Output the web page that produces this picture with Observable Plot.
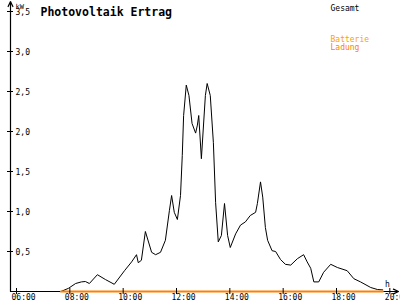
<!DOCTYPE html>
<html>
<head>
<meta charset="utf-8">
<script src="https://cdn.jsdelivr.net/npm/d3@7"></script>
<script src="https://cdn.jsdelivr.net/npm/@observablehq/plot@0.6"></script>
<style>
  html, body { margin: 0; padding: 0; background: #fff; }
  #chart svg { display: block; }
</style>
</head>
<body>
<div id="chart"></div>
<script>
// Gesamt (total PV output, kW)
const gesamtTimes = ["07:40","07:57","08:13","08:26","08:35","08:44","09:02","09:20","09:40","10:03","10:19","10:30","10:34","10:41","10:50","11:04","11:13","11:24","11:35","11:44","11:49","11:55","12:02","12:09","12:13","12:16","12:22","12:28","12:35","12:43","12:47","12:50","12:56","13:05","13:09","13:16","13:23","13:28","13:34","13:41","13:48","13:55","14:01","14:13","14:24","14:35","14:46","14:58","15:02","15:09","15:14","15:20","15:25","15:35","15:43","15:54","16:05","16:17","16:32","16:46","16:54","17:02","17:09","17:20","17:31","17:47","18:02","18:24","18:39","18:54","19:17","19:32","19:44"];
const gesamtKW = [0.0,0.04,0.10,0.12,0.125,0.10,0.21,0.15,0.09,0.26,0.37,0.46,0.36,0.39,0.75,0.49,0.46,0.49,0.64,1.01,1.20,0.99,0.90,1.20,1.70,2.20,2.58,2.45,2.10,1.98,2.08,2.20,1.66,2.45,2.60,2.45,1.86,1.11,0.62,0.70,1.10,0.70,0.55,0.72,0.83,0.87,0.95,0.99,1.10,1.37,1.18,0.80,0.64,0.51,0.50,0.40,0.34,0.33,0.41,0.46,0.37,0.29,0.12,0.12,0.24,0.34,0.30,0.26,0.16,0.12,0.05,0.025,0.02];

// Batterie Ladung (battery charging, kW)
const ladungTimes = ["07:40","19:44"];
const ladungKW = [0, 0];

// Axis ticks and labels
const yTicks = [0.5, 1.0, 1.5, 2.0, 2.5, 3.0, 3.5];
const yTickLabels = ["0,5","1,0","1,5","2,0","2,5","3,0","3,5"];
const xTicks = [6, 8, 10, 12, 14, 16, 18, 20];
const xTickLabels = ["06:00","08:00","10:00","12:00","14:00","16:00","18:00","20:00"];

const title = "Photovoltaik Ertrag";
const yUnit = "kW";
const xUnit = "h";
const legendGesamt = "Gesamt";
const legendBatterie = "Batterie";
const legendLadung = "Ladung";

const toHours = s => { const [h, m] = s.split(":").map(Number); return h + m / 60; };
const gesamt = gesamtTimes.map((t, i) => ({t: toHours(t), kw: gesamtKW[i]}));
const ladung = ladungTimes.map((t, i) => ({t: toHours(t), kw: ladungKW[i]}));

const xDomain = [5.775, 20.325];
const yDomain = [0, 3.625];
const mono = "DejaVu Sans Mono, monospace";

const chart = Plot.plot({
  width: 400,
  height: 300,
  margin: 0,
  style: {background: "#fff", fontFamily: mono, overflow: "visible"},
  x: {domain: xDomain, range: [10, 398], axis: null},
  y: {domain: yDomain, range: [291, 1], axis: null},
  marks: [
    // data
    Plot.line(gesamt, {x: "t", y: "kw", stroke: "#000", strokeWidth: 1}),
    // axes with arrow heads
    Plot.arrow([0], {x1: xDomain[0], x2: xDomain[0], y1: yDomain[0], y2: yDomain[1], stroke: "#000", strokeWidth: 1.2, headLength: 7, headAngle: 50}),
    Plot.arrow([0], {x1: xDomain[0], x2: xDomain[1], y1: 0, y2: 0, stroke: "#000", strokeWidth: 1.2, headLength: 7, headAngle: 50}),
    Plot.line(ladung, {x: "t", y: "kw", stroke: "#ff8000", strokeWidth: 2}),
    // tick marks crossing the axes
    Plot.ruleY(yTicks, {x1: xDomain[0], x2: xDomain[0], insetLeft: -3, insetRight: -3, stroke: "#000"}),
    Plot.ruleX(xTicks, {y1: 0, y2: 0, insetTop: -3, insetBottom: -3, stroke: "#000"}),
    // tick labels
    Plot.text(yTicks, {x: xDomain[0], y: d => d, text: (d, i) => yTickLabels[i], textAnchor: "start", dx: 5, dy: 0.5, fontSize: 8, fill: "#000"}),
    Plot.text(xTicks, {x: d => d, y: 0, text: (d, i) => xTickLabels[i], textAnchor: "start", dx: -5, dy: 6, fontSize: 8, fill: "#000"}),
    // units
    Plot.text([yUnit], {frameAnchor: "top-left", dx: 15, dy: 3.5, text: d => d, textAnchor: "start", fontSize: 7, fill: "#000"}),
    Plot.text([xUnit], {frameAnchor: "top-left", dx: 387, dy: 281, text: d => d, textAnchor: "middle", fontSize: 8, fill: "#000"}),
    // title
    Plot.text([title], {frameAnchor: "top-left", dx: 40, dy: 7, text: d => d, textAnchor: "start", fontSize: 11.5, fontWeight: "bold", fill: "#000"}),
    // legend
    Plot.text([legendGesamt], {frameAnchor: "top-left", dx: 330, dy: 4.5, text: d => d, textAnchor: "start", fontSize: 8, fill: "#000"}),
    Plot.text([legendBatterie], {frameAnchor: "top-left", dx: 330, dy: 35.5, text: d => d, textAnchor: "start", fontSize: 8, fill: "#ffa000"}),
    Plot.text([legendLadung], {frameAnchor: "top-left", dx: 330, dy: 43.5, text: d => d, textAnchor: "start", fontSize: 8, fill: "#ff8000"})
  ]
});
document.getElementById("chart").appendChild(chart);
</script>
</body>
</html>
